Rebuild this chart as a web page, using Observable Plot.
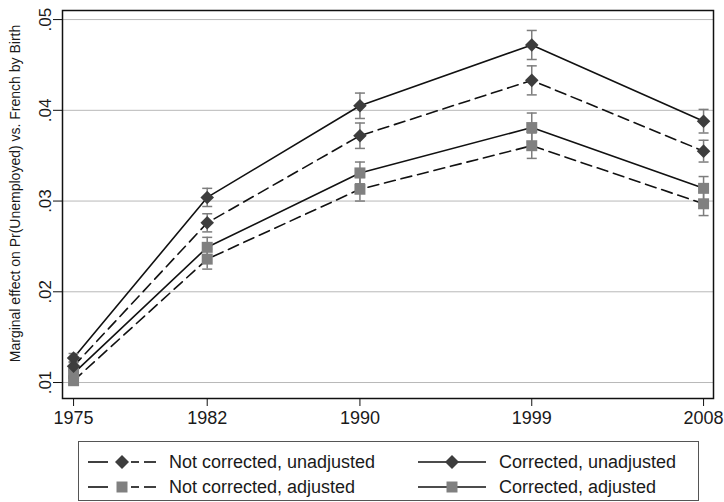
<!DOCTYPE html>
<html><head><meta charset="utf-8">
<script src="https://cdn.jsdelivr.net/npm/d3@7"></script>
<script src="https://cdn.jsdelivr.net/npm/@observablehq/plot@0.6"></script>
<style>
body{margin:0;background:#fff;font-family:"Liberation Sans",Arial,sans-serif;}
#chart{width:724px;height:502px;position:relative;overflow:hidden;background:#fff}
#chart svg{display:block}
.legend{position:absolute;left:78px;top:441px;width:621px;height:60px;box-sizing:border-box;border:1px solid #555;}
.item{position:absolute;height:24px;display:flex;align-items:center;font-size:18px;color:#1a1a1a;white-space:nowrap}
.item svg{margin-right:12px}
</style></head><body><div id="chart"></div>
<script>
// ---- data ----
const years = [1975, 1982, 1990, 1999, 2008];
const seriesNames = ["Not corrected, unadjusted", "Corrected, unadjusted", "Not corrected, adjusted", "Corrected, adjusted"];
const notCorrUnadj   = [0.0118, 0.0276, 0.0372, 0.0433, 0.0355];
const notCorrUnadjCI = [0.0005, 0.0010, 0.0014, 0.0016, 0.0012];
const corrUnadj      = [0.0127, 0.0304, 0.0405, 0.0472, 0.0388];
const corrUnadjCI    = [0.0005, 0.0010, 0.0014, 0.0016, 0.0013];
const notCorrAdj     = [0.0102, 0.0236, 0.0313, 0.0361, 0.0297];
const notCorrAdjCI   = [0.0004, 0.0011, 0.0013, 0.0014, 0.0013];
const corrAdj        = [0.0110, 0.0249, 0.0331, 0.0381, 0.0314];
const corrAdjCI      = [0.0004, 0.0011, 0.0012, 0.0016, 0.0013];
const yTicks = [0.01, 0.02, 0.03, 0.04, 0.05];
const yLabel = "Marginal effect on Pr(Unemployed) vs. French by Birth";

// ---- build table ----
const seriesDefs = [
  {name: seriesNames[0], vals: notCorrUnadj, ci: notCorrUnadjCI, marker: "diamond", dashed: true},
  {name: seriesNames[1], vals: corrUnadj,    ci: corrUnadjCI,    marker: "diamond", dashed: false},
  {name: seriesNames[2], vals: notCorrAdj,   ci: notCorrAdjCI,   marker: "square",  dashed: true},
  {name: seriesNames[3], vals: corrAdj,      ci: corrAdjCI,      marker: "square",  dashed: false}
];
const rows = seriesDefs.flatMap(s => years.map((yr, i) => ({
  series: s.name, year: yr, value: s.vals[i], lo: s.vals[i] - s.ci[i], hi: s.vals[i] + s.ci[i],
  marker: s.marker, dashed: s.dashed
})));
const caps = rows.flatMap(d => [{year: d.year, v: d.lo}, {year: d.year, v: d.hi}]);

const DIAMOND_FILL = "#3d3d3d", SQUARE_FILL = "#808080", BAR = "#7d7d7d";
const capSymbol = {draw(ctx, size) { const w = Math.sqrt(size / Math.PI); ctx.moveTo(-w, 0); ctx.lineTo(w, 0); }};

const lineMarks = seriesDefs.map(s => Plot.line(rows.filter(d => d.series === s.name), {
  x: "year", y: "value", stroke: "#111", strokeWidth: 1.6,
  strokeDasharray: s.dashed ? "11,6" : null
}));

const plot = Plot.plot({
  width: 724, height: 432,
  marginLeft: 62, marginRight: 11, marginTop: 10, marginBottom: 34,
  style: {fontFamily: "'Liberation Sans', Arial, sans-serif", color: "#1a1a1a", background: "#fff"},
  x: {type: "linear", domain: [1974.42, 2008.52]},
  y: {type: "linear", domain: [0.00824, 0.051]},
  marks: [
    Plot.gridY(yTicks, {stroke: "#b8b8b8", strokeOpacity: 1, strokeWidth: 1}),
    ...lineMarks,
    Plot.ruleX(rows, {x: "year", y1: "lo", y2: "hi", stroke: BAR, strokeWidth: 1.5}),
    Plot.dot(caps, {x: "year", y: "v", symbol: capSymbol, r: 5, stroke: BAR, strokeWidth: 1.5, fill: "none"}),
    Plot.dot(rows.filter(d => d.marker === "square"), {x: "year", y: "value", symbol: "square", r: 6.2, fill: SQUARE_FILL, stroke: "none"}),
    Plot.dot(rows.filter(d => d.marker === "diamond"), {x: "year", y: "value", symbol: "diamond2", r: 6.1, fill: DIAMOND_FILL, stroke: "none"}),
    Plot.frame({stroke: "#111", strokeWidth: 1.5}),
    Plot.axisX({ticks: years, tickFormat: d => String(d), tickSize: 8, tickPadding: 5, fontSize: 18, label: null, stroke: "#111"}),
    Plot.axisY({ticks: yTicks, tickFormat: d => d3.format(".2f")(d).replace(/^0/, ""), tickRotate: -90, tickSize: 9, tickPadding: 3, fontSize: 17, label: null, stroke: "#111"}),
    Plot.text([yLabel], {frameAnchor: "left", rotate: -90, dx: -47, dy: -11, fontSize: 14, textAnchor: "middle", lineAnchor: "middle", fill: "#1a1a1a"})
  ]
});
const chart = document.getElementById("chart");
chart.appendChild(plot);

// ---- legend (HTML below the SVG) ----
function icon(marker, dashed) {
  const ns = "http://www.w3.org/2000/svg";
  const svg = document.createElementNS(ns, "svg");
  svg.setAttribute("width", 70); svg.setAttribute("height", 20);
  const segs = dashed ? [[1, 21], [44, 52], [57, 69]] : [[1, 69]];
  for (const [a, b] of segs) {
    const l = document.createElementNS(ns, "line");
    l.setAttribute("x1", a); l.setAttribute("x2", b); l.setAttribute("y1", 10); l.setAttribute("y2", 10);
    l.setAttribute("stroke", "#111"); l.setAttribute("stroke-width", 1.6);
    svg.appendChild(l);
  }
  const p = document.createElementNS(ns, "path");
  if (marker === "diamond") { p.setAttribute("d", "M35,3L42,10L35,17L28,10Z"); p.setAttribute("fill", DIAMOND_FILL); }
  else { p.setAttribute("d", "M29.5,4.5h11v11h-11Z"); p.setAttribute("fill", SQUARE_FILL); }
  svg.appendChild(p);
  return svg;
}
const legend = document.createElement("div");
legend.className = "legend";
const pos = [[8, 8], [338, 8], [8, 33], [338, 33]];
seriesDefs.forEach((s, i) => {
  const it = document.createElement("div");
  it.className = "item";
  it.style.left = pos[i][0] + "px"; it.style.top = pos[i][1] + "px";
  it.appendChild(icon(s.marker, s.dashed));
  const t = document.createElement("span"); t.textContent = s.name;
  it.appendChild(t);
  legend.appendChild(it);
});
chart.appendChild(legend);
</script></body></html>
